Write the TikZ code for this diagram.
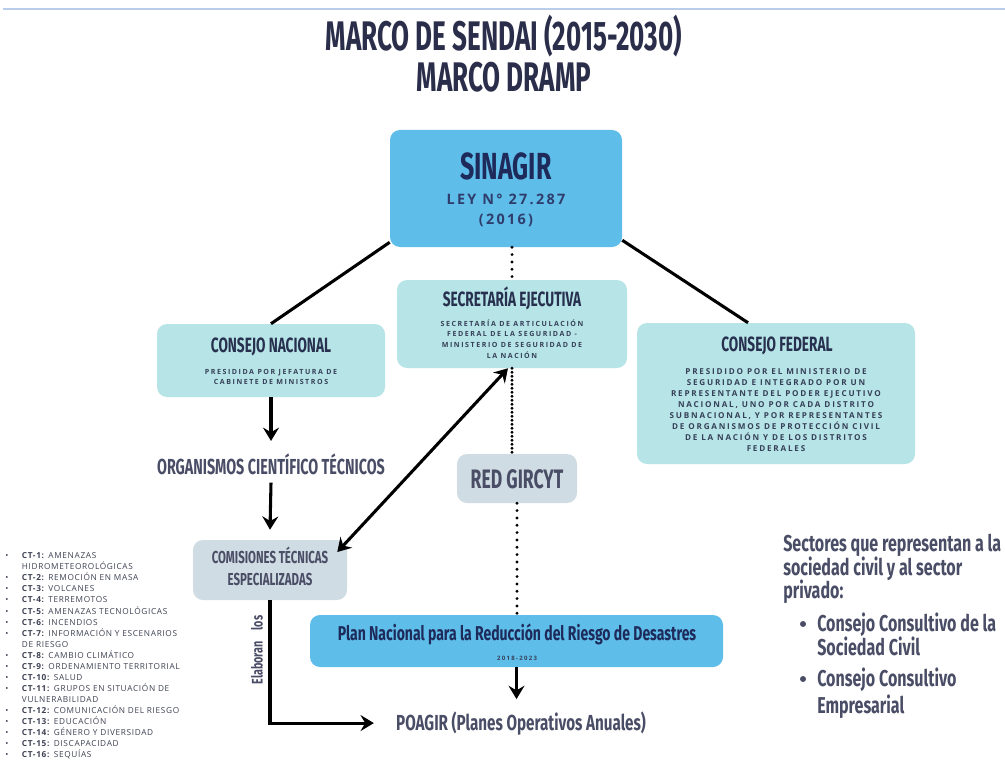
\documentclass[tikz,border=0pt]{standalone}
\usepackage{fontspec}
\setmainfont{Open Sans}
\newfontfamily\condt[FakeStretch=0.63]{Fira Sans}
\newfontfamily\condw[FakeStretch=0.66]{Fira Sans}
\newfontfamily\condx[FakeStretch=0.70]{Fira Sans}
\newfontfamily\spaced[LetterSpace=22]{Open Sans}
\newfontfamily\leyfont[LetterSpace=16]{Open Sans}
\newfontfamily\listfont[LetterSpace=8]{Open Sans}
\usetikzlibrary{arrows.meta,fit,calc}
\definecolor{sky}{HTML}{5FBDEA}
\definecolor{tealb}{HTML}{B7E4E6}
\definecolor{grayb}{HTML}{D0DCE3}
\definecolor{navy}{HTML}{1D2A5A}
\definecolor{headc}{HTML}{27304F}
\definecolor{smallc}{HTML}{354058}
\definecolor{leyc}{HTML}{2E3D6B}
\definecolor{grayt}{HTML}{4A4D66}
\definecolor{titlec}{HTML}{2B2E4A}
\definecolor{listc}{HTML}{3E4152}
\definecolor{topl}{HTML}{B9CCEA}
\begin{document}
\begin{tikzpicture}[x=0.75pt,y=-0.75pt,
  box/.style={rounded corners=7.5pt, inner sep=0pt},
  skybox/.style={box, fill=sky},
  tealbox/.style={box, fill=tealb},
  graybox/.style={box, fill=grayb},
  titletxt/.style={font=\condt\bfseries\fontsize{31}{33}\selectfont, text=titlec, inner sep=0pt, anchor=base},
  bigtxt/.style={font=\condw\bfseries\fontsize{28.3}{31}\selectfont, text=navy, inner sep=0pt, anchor=base},
  leytxt/.style={font=\leyfont\bfseries\fontsize{10.8}{12}\selectfont, text=leyc, inner sep=0pt, anchor=base},
  headtxt/.style={font=\condw\bfseries\fontsize{15.5}{17}\selectfont, text=headc, inner sep=0pt, anchor=base},
  smalltxt/.style={font=\spaced\bfseries\fontsize{5.3}{8.1}\selectfont, text=smallc, align=center, inner sep=0pt},
  graytxt/.style={font=\condw\bfseries\fontsize{16.3}{19}\selectfont, text=grayt, inner sep=0pt, anchor=base},
  comtxt/.style={font=\condw\bfseries\fontsize{13}{16.4}\selectfont, text=grayt, align=center, inner sep=0pt},
  plantxt/.style={font=\condx\bfseries\fontsize{15}{17}\selectfont, text=navy, inner sep=0pt, anchor=base},
  tinytxt/.style={font=\spaced\bfseries\fontsize{4.5}{5}\selectfont, text=smallc, inner sep=0pt, anchor=base},
  righttxt/.style={font=\condx\bfseries\fontsize{17.2}{19}\selectfont, text=grayt, inner sep=0pt, anchor=base west},
  listtxt/.style={font=\listfont\fontsize{6.2}{8.3}\selectfont, text=listc, align=left, inner sep=0pt, anchor=west},
  bul/.style={circle, fill=grayt, inner sep=0pt, minimum size=4.5pt},
  conn/.style={line width=2.3pt, black},
  arr/.style={conn, -{Stealth[length=10pt,width=12pt,inset=3.5pt]}},
  arrtwo/.style={conn, {Stealth[length=10pt,width=12pt,inset=3.5pt]}-{Stealth[length=10pt,width=12pt,inset=3.5pt]}},
  dotline/.style={line width=2.4pt, dash pattern=on 0pt off 5.5pt, line cap=round},
  densedot/.style={line width=2.4pt, dash pattern=on 0pt off 3pt, line cap=round},
  topline/.style={line width=1.6pt, draw=topl}
]
\fill[white] (0,0) rectangle (1005,763);
\useasboundingbox (0,0) rectangle (1005,763);

\coordinate (tl) at (3,9);
\coordinate (tr) at (1005,9);
\draw[topline] (tl) -- (tr);

\node[titletxt] (t1) at (504,51) {MARCO DE SENDAI (2015-2030)};
\node[titletxt] (t2) at (504,92) {MARCO DRAMP};

% SINAGIR
\node[skybox, fit={(390,130) (622,247)}] (sinagir) {};
\node[bigtxt] (sinagirT) at (506,179) {SINAGIR};
\node[leytxt] (ley) at (506,204) {LEY N° 27.287};
\node[leytxt] (ano) at (506,224) {(2016)};

% Secretaria
\node[tealbox, fit={(397,280) (627,368)}] (sec) {};
\node[headtxt] (secH) at (512,306) {SECRETARÍA EJECUTIVA};
\node[smalltxt] (secS) at (512,339) {SECRETARÍA DE ARTICULACIÓN\\FEDERAL DE LA SEGURIDAD -\\MINISTERIO DE SEGURIDAD DE\\LA NACIÓN};

% Consejo Nacional
\node[tealbox, fit={(157,324) (385,397)}] (cn) {};
\node[headtxt] (cnH) at (271,352) {CONSEJO NACIONAL};
\node[smalltxt] (cnS) at (271,377) {PRESIDIDA POR JEFATURA DE\\CABINETE DE MINISTROS};

% Consejo Federal
\node[tealbox, fit={(637,323) (915,464)}] (cf) {};
\node[headtxt] (cfH) at (777,351) {CONSEJO FEDERAL};
\node[smalltxt, font=\spaced\bfseries\fontsize{6.1}{8.3}\selectfont] (cfS) at (776,410) {PRESIDIDO POR EL MINISTERIO DE\\SEGURIDAD E INTEGRADO POR UN\\REPRESENTANTE DEL PODER EJECUTIVO\\NACIONAL, UNO POR CADA DISTRITO\\SUBNACIONAL, Y POR REPRESENTANTES\\DE ORGANISMOS DE PROTECCIÓN CIVIL\\DE LA NACIÓN Y DE LOS DISTRITOS\\FEDERALES};

% Organismos
\node[graytxt] (org) at (271,474) {ORGANISMOS CIENTÍFICO TÉCNICOS};

% Comisiones
\node[graybox, fit={(193,540) (347,600)}] (com) {};
\node[comtxt] (comT) at (270,566) {COMISIONES TÉCNICAS\\ESPECIALIZADAS};

% Red GIRCyT
\node[graybox, fit={(457,454) (577,503)}] (gir) {};
\node[graytxt, font=\condw\bfseries\fontsize{20}{22}\selectfont] (girT) at (517,488) {RED GIRCYT};

% Plan
\node[skybox, fit={(310,615) (723,667)}] (plan) {};
\node[plantxt] (planT) at (517,640) {Plan Nacional para la Reducción del Riesgo de Desastres};
\node[tinytxt] (planY) at (517,660) {2018-2023};

% POAGIR
\node[graytxt, font=\condx\bfseries\fontsize{16.3}{18}\selectfont] (poagir) at (521,730) {POAGIR (Planes Operativos Anuales)};

\node[font=\condx\bfseries\fontsize{11.5}{13}\selectfont, text=grayt, rotate=90, inner sep=0pt] (elab) at (257,650) {Elaboran\hspace{8pt}los};

% Left list
\node[listtxt] (list) at (5,656) {%
\makebox[12.5pt][l]{\textbullet}\textbf{CT-1:} AMENAZAS\\
\hspace*{12.5pt}HIDROMETEOROLÓGICAS\\
\makebox[12.5pt][l]{\textbullet}\textbf{CT-2:} REMOCIÓN EN MASA\\
\makebox[12.5pt][l]{\textbullet}\textbf{CT-3:} VOLCANES\\
\makebox[12.5pt][l]{\textbullet}\textbf{CT-4:} TERREMOTOS\\
\makebox[12.5pt][l]{\textbullet}\textbf{CT-5:} AMENAZAS TECNOLÓGICAS\\
\makebox[12.5pt][l]{\textbullet}\textbf{CT-6:} INCENDIOS\\
\makebox[12.5pt][l]{\textbullet}\textbf{CT-7:} INFORMACIÓN Y ESCENARIOS\\
\hspace*{12.5pt}DE RIESGO\\
\makebox[12.5pt][l]{\textbullet}\textbf{CT-8:} CAMBIO CLIMÁTICO\\
\makebox[12.5pt][l]{\textbullet}\textbf{CT-9:} ORDENAMIENTO TERRITORIAL\\
\makebox[12.5pt][l]{\textbullet}\textbf{CT-10:} SALUD\\
\makebox[12.5pt][l]{\textbullet}\textbf{CT-11:} GRUPOS EN SITUACIÓN DE\\
\hspace*{12.5pt}VULNERABILIDAD\\
\makebox[12.5pt][l]{\textbullet}\textbf{CT-12:} COMUNICACIÓN DEL RIESGO\\
\makebox[12.5pt][l]{\textbullet}\textbf{CT-13:} EDUCACIÓN\\
\makebox[12.5pt][l]{\textbullet}\textbf{CT-14:} GÉNERO Y DIVERSIDAD\\
\makebox[12.5pt][l]{\textbullet}\textbf{CT-15:} DISCAPACIDAD\\
\makebox[12.5pt][l]{\textbullet}\textbf{CT-16:} SEQUÍAS};

% Right text
\node[righttxt] (r1) at (783,551) {Sectores que representan a la};
\node[righttxt] (r2) at (783,575) {sociedad civil y al sector};
\node[righttxt] (r3) at (783,598) {privado:};
\node[bul] (b1) at (803,624) {};
\node[righttxt] (r4) at (817,631) {Consejo Consultivo de la};
\node[righttxt] (r5) at (817,655) {Sociedad Civil};
\node[bul] (b2) at (803,679) {};
\node[righttxt] (r6) at (817,686) {Consejo Consultivo};
\node[righttxt] (r7) at (817,713) {Empresarial};

% Connectors
\draw[conn] ([shift={(0,-5)}]sinagir.south west) -- (cn.north);
\draw[conn] ([shift={(0,-7)}]sinagir.south east) -- ([shift={(-28,0)}]cf.north);
\draw[dotline] (sec.north |- sinagir.south) -- (sec.north);
\draw[arr] (cn.south) -- ([shift={(0,-12)}]org.north);
\draw[arr] ([shift={(0,8)}]org.south) -- ([shift={(0,-10)}]com.north);
\draw[arrtwo] ([shift={(-4,0)}]sec.south) -- ([shift={(-10,-18)}]com.east);
\draw[densedot] (sec.south) -- (sec.south |- gir.north);
\draw[dotline] (gir.south) -- (gir.south |- plan.north);
\draw[arr] (plan.south) -- ([shift={(0,-12)}]plan.south |- poagir.north);
\draw[arr] (com.south) |- ([shift={(-22,0)}]poagir.west);
\end{tikzpicture}
\end{document}
